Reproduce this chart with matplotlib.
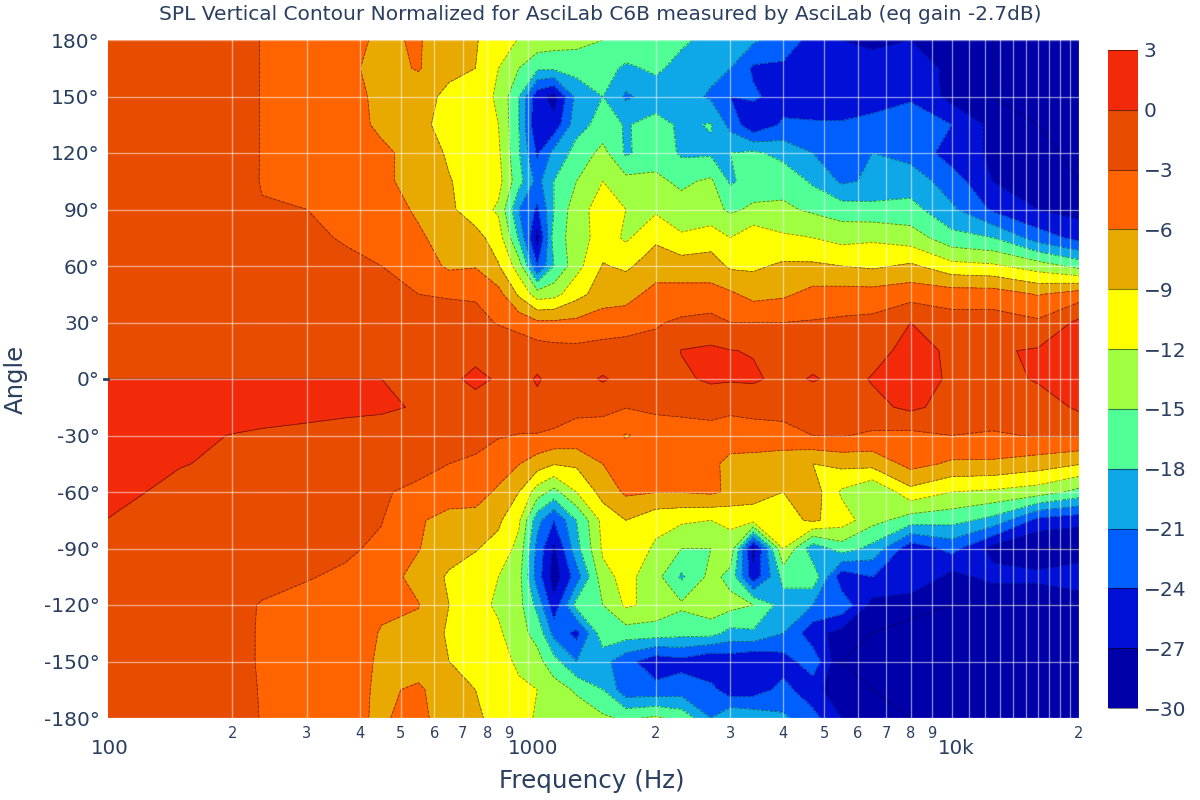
import numpy as np
import matplotlib
matplotlib.use("Agg")
import matplotlib.pyplot as plt
from matplotlib.cm import ScalarMappable
from matplotlib.colors import ListedColormap, BoundaryNorm

TITLE = "SPL Vertical Contour Normalized for AsciLab C6B measured by AsciLab (eq gain -2.7dB)"
freqs = [100,150,200,235,300,370,450,550,650,750,850,950,1050,1150,1300,1500,1700,2000,2300,2700,3000,3400,4000,4700,5500,6500,8000,10000,12500,16000,20000]
angles = [180,150,120,90,60,30,0,-30,-60,-90,-120,-150,-180]
angles_all = list(range(180, -181, -15))

p180 = [-1.5,-1.5,-2,-3.1,-4,-5.5,-6.3,-5.8,-7.5,-8.8,-10.5,-12.2,-13,-13.5,-14,-15,-16,-16.5,-17.5,-19,-20,-20.5,-22.5,-25,-27,-27.5,-27,-28.5,-30,-31,-31]
p165 = [-1.5,-1.5,-2,-3.1,-4,-5.5,-6.8,-5.8,-8,-9,-12,-15,-17.5,-17.5,-17,-17,-18.5,-17.5,-19,-20,-21,-24.5,-24.5,-27,-26.5,-26,-25,-28,-30,-31,-31]
p150 = [-1.5,-1.5,-2,-3.1,-4,-5,-6.7,-7.5,-10,-10.5,-12.5,-18,-26,-28,-20,-18,-21.5,-19.5,-19.5,-21.5,-24,-23.5,-25.5,-26.5,-27,-25.5,-24.5,-28,-30,-31,-31]
p135 = [-1.5,-1.5,-2,-3.1,-4,-5,-6.5,-8,-10.5,-11,-12,-18,-27,-26,-19,-17,-18.2,-17,-18.5,-17.8,-22,-26.5,-23.5,-23.5,-23.5,-23,-22,-24,-28,-30,-31]
p120 = [-1.5,-1.5,-2,-3.1,-4,-5.2,-5.5,-7,-9.5,-10.5,-11.5,-17.8,-24.5,-20,-17,-14,-18.5,-16,-18.5,-18.5,-18,-17.5,-19,-21,-22.5,-21,-22,-25.5,-27.5,-29,-31]
p105 = [-1.5,-1.5,-2.2,-3.1,-3.5,-5,-5.5,-7,-8.8,-10.5,-11,-17,-22,-18,-15,-12,-14,-14.5,-15.5,-14.5,-18.5,-16.5,-16,-18.5,-21.5,-20.5,-19.5,-22.5,-27,-27,-30]
p090 = [-1.5,-1.5,-2,-2.9,-3,-4.2,-4.5,-6.5,-8.5,-10.5,-12.5,-21,-24.5,-18,-13,-10.8,-12,-12.5,-14,-14,-15.5,-14.5,-14.5,-15.5,-16.5,-17,-17,-20.5,-24.5,-27,-28]
p075 = [-1.5,-1.5,-1.8,-2,-2.6,-3.2,-4.5,-5.5,-7.5,-8,-10.5,-18.5,-28,-16.5,-13.5,-10.5,-12.5,-9.5,-11.5,-10.5,-12,-10,-11.5,-12,-13,-12.5,-13.5,-17,-18,-22.5,-25]
p060 = [-1.3,-1.5,-1.6,-1.8,-2,-2.5,-3,-4.5,-6.5,-6.2,-8.8,-13.5,-24,-18,-13,-8.8,-9.5,-7.5,-7.5,-7.5,-9.5,-9.5,-8.5,-8.5,-9,-9.5,-8.5,-11,-11.5,-13.5,-16]
p045 = [-1.3,-1.3,-1.4,-1.5,-1.8,-2,-2.5,-3,-3.2,-3.3,-5,-9.5,-13.5,-13,-10,-7.5,-7,-5,-5,-5,-5.5,-7,-6.5,-5,-4.8,-4.8,-4.2,-4.5,-4.5,-6.2,-4.5]
p030 = [-1.2,-1.2,-1.2,-1.3,-1.4,-1.5,-1.7,-1.8,-2,-2.2,-3.2,-4,-5.5,-5.5,-5.3,-4.5,-4.5,-3.3,-2.5,-2,-3,-3,-3,-2.8,-2.5,-2.2,0,-1.7,-1.7,-2.5,0.7]
p015 = [-1,-1,-1,-1,-1,-1,-1,-1,-0.8,-0.8,-1,-1.3,-1.5,-2,-2.2,-2,-1.5,-2,0.1,0.5,0.1,-0.2,-1.5,-1.5,-1.5,-1,1,-0.5,-0.3,0.3,1.2]
p000 = [0,0,0,0,0,0,0,-0.5,-0.5,0.6,-0.3,-1,0.3,-1,-1,0.3,-1,-1,-0.5,0.5,0.3,0.5,-1,0.3,-1,0.2,1.5,-0.5,-1,0.3,1]
m015 = [1.5,1.5,1.5,1.5,1,0.6,0.5,-0.3,-1,-1,-1.2,-1.5,-0.8,-1.5,-2.5,-2.4,-2.9,-2.3,-2.2,-2.3,-2.5,-2.5,-2.7,-2.6,-1,-0.7,0.6,-1.2,-1.5,-1.5,0.5]
m030 = [1.2,0.6,-0.1,-0.5,-0.8,-1,-1.5,-1.5,-1.7,-2,-2.8,-3.1,-3.2,-3.5,-3.8,-4.2,-6.2,-5,-4.5,-3.8,-4.2,-3.7,-3.3,-3,-2.8,-3.5,-3.8,-3,-3.3,-2.8,-2.7]
m045 = [1,0.2,-0.8,-1,-1.5,-1.8,-1.8,-2.3,-3,-3.5,-4.5,-5.9,-7.5,-8.8,-8.5,-6,-4.5,-4.5,-5,-5.2,-7,-7.5,-8.5,-9,-8.2,-8,-5,-6.5,-6.5,-7.5,-8.8]
m060 = [1,-1,-1.2,-1.5,-1.8,-2.3,-2.8,-3.5,-4.5,-4.8,-6.5,-9,-13.5,-16,-12,-7.8,-5.5,-5.9,-5.9,-5.5,-6.5,-7.5,-9,-7.5,-12.5,-15,-10,-12,-12.5,-13.5,-16]
m075 = [0,-1.3,-1.5,-2,-2.5,-2.8,-2.9,-5.7,-7,-7,-8.5,-11.5,-20,-24,-18,-11,-9,-11,-11.5,-12,-11.5,-11,-10,-8.5,-10.5,-14,-16.5,-17,-19,-25,-26]
m090 = [-1.5,-1.7,-2,-2.2,-2.5,-2.7,-3.4,-5.9,-7.5,-8.8,-10,-13,-22,-27.5,-19,-11.5,-10,-12.5,-15,-15,-13,-28,-12,-20,-16.5,-19,-26,-23,-28,-30,-30]
m105 = [-1.7,-1.9,-2.3,-2.5,-2.9,-3.3,-5,-6.8,-9.5,-10.5,-12,-14,-22.5,-28.5,-22.5,-13,-11,-14,-18.5,-14,-16,-26,-17,-16,-26,-24,-24,-28,-26,-26,-24]
m120 = [-2,-2.2,-2.6,-3.1,-3.5,-4.2,-5.5,-5.9,-9,-11,-12.5,-14,-19,-26,-17,-15,-11.5,-13,-14.5,-13,-14,-15,-19.5,-21,-22,-28,-29,-30,-30,-30,-30]
m135 = [-2.2,-2.3,-2.7,-3.1,-4,-4.5,-6.2,-6.7,-9.5,-10.5,-11.5,-14,-16,-22,-25,-16,-16.5,-16.5,-17,-17,-19,-18.5,-21,-26,-28,-30,-31,-31,-31,-31,-31]
m150 = [-2.3,-2.3,-2.7,-3.1,-4,-4.5,-6.5,-7.5,-9,-10,-11,-12.5,-14,-17,-21,-20,-23,-26,-25,-27,-26,-27,-25.5,-22,-30,-31,-31,-31,-31,-31,-31]
m165 = [-2,-2.2,-2.5,-3.1,-4,-5,-6.5,-5.5,-8,-9,-10.5,-11.5,-12,-13.5,-15.5,-18,-23,-23,-22.5,-23,-26,-25.5,-23,-26,-29,-30,-31,-31,-31,-31,-31]
m180 = [-1.5,-2,-2.2,-3.1,-4,-5.5,-6.3,-5,-8,-8.5,-10,-10.5,-12.5,-13,-13,-14.5,-15.5,-14.5,-16,-21,-18,-19,-20.5,-23,-27,-28.5,-30,-31,-31,-31,-31]

levels = [-30,-27,-24,-21,-18,-15,-12,-9,-6,-3,0,3]
band_colors = ["#0000a8","#0010d6","#0060ff","#0ea8e8","#50ff96","#a0ff40","#ffff00","#e8aa00","#ff6400","#e84c00","#f22a0a"]
grid_freqs = [200,300,400,500,600,700,800,900,1000,2000,3000,4000,5000,6000,7000,8000,9000,10000,11000,12000,13000,14000,15000,16000,17000,18000,19000,20000]
minor_labels = {200:"2",300:"3",400:"4",500:"5",600:"6",700:"7",800:"8",900:"9",2000:"2",3000:"3",4000:"4",5000:"5",6000:"6",7000:"7",8000:"8",9000:"9",20000:"2"}
major_labels = {100:"100",1000:"1000",10000:"10k"}

INK = "#2a3f5f"
plt.rcParams["font.family"] = "DejaVu Sans"
fig = plt.figure(figsize=(12, 8), dpi=100)
ax = fig.add_axes([108/1200, 82/800, 971/1200, 678/800])

Z = np.array([p180,p165,p150,p135,p120,p105,p090,p075,p060,p045,p030,p015,p000,
              m015,m030,m045,m060,m075,m090,m105,m120,m135,m150,m165,m180], dtype=float)
cmap = ListedColormap(band_colors)
cmap.set_under(band_colors[0])
cmap.set_over(band_colors[-1])
norm = BoundaryNorm(levels, cmap.N)
cf = ax.contourf(freqs, angles_all, Z, levels=levels, cmap=cmap, norm=norm, extend="both", zorder=1)
cs = ax.contour(freqs, angles_all, Z, levels=levels, colors="k", linewidths=0.6, alpha=0.5, zorder=2)
ax.set_xscale("log")
ax.set_xlim(101.65, 20000)
ax.set_ylim(-180, 180)
ax.set_yticks(angles)
ax.set_yticklabels([f"{a}°" for a in angles], fontsize=14.5, color=INK)
ax.set_xticks(grid_freqs)
ax.set_xticks([], minor=True)
ax.tick_params(axis="both", length=0, labelbottom=False, pad=6)
ax.grid(True, color="white", alpha=0.5, linewidth=1, zorder=3)
ax.set_axisbelow(False)
for s in ax.spines.values():
    s.set_visible(False)

for f, t in minor_labels.items():
    ax.annotate(t, xy=(f, 0), xycoords=("data", "axes fraction"), xytext=(0, -15), textcoords="offset pixels",
                ha="center", va="center", fontsize=10.5, color=INK, annotation_clip=False)
for f, t in major_labels.items():
    ax.annotate(t, xy=(f, 0), xycoords=("data", "axes fraction"), xytext=(5, -30), textcoords="offset pixels",
                ha="center", va="center", fontsize=14.3, color=INK, annotation_clip=False)

ax.plot([-0.004, 0], [0.5, 0.5], transform=ax.transAxes, color=INK, lw=2, clip_on=False, zorder=5)

fig.text(592/1200, 1-781/800, "Frequency (Hz)", ha="center", va="center", fontsize=17.7, color=INK)
fig.text(16/1200, 1-379/800, "Angle", ha="center", va="center", rotation=90, fontsize=17.5, color=INK)
fig.text(600/1200, 1-15/800, TITLE, ha="center", va="center", fontsize=14.5, color=INK)

cax = fig.add_axes([1108/1200, 92/800, 30/1200, 658/800])
cb = fig.colorbar(ScalarMappable(norm=norm, cmap=cmap), cax=cax, ticks=levels, extend="neither", spacing="proportional")
cb.outline.set_visible(False)
cb.add_lines(levels, ["#00000080"] * len(levels), [0.8] * len(levels))
cb.ax.tick_params(length=0, labelsize=14.5, labelcolor=INK, pad=4)

fig.savefig("out.png", dpi=100)
